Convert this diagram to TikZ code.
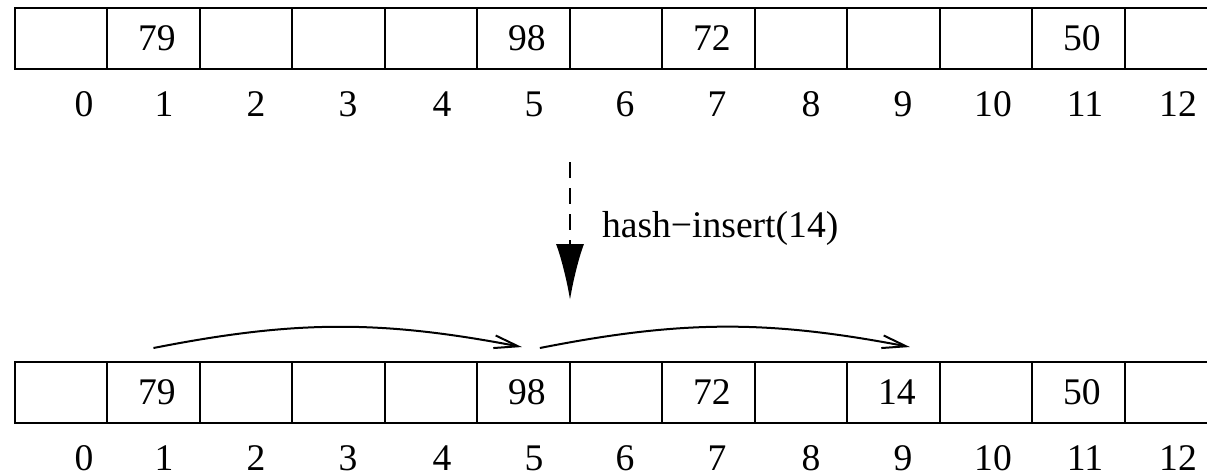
\documentclass[tikz,border=0pt]{standalone}
\usepackage{fontspec}
\setmainfont{Liberation Serif}
\usetikzlibrary{arrows.meta}
\begin{document}
\begin{tikzpicture}[x=0.25pt,y=-0.25pt,line width=0.5pt,font=\fontsize{9.4}{11}\selectfont,
		cell/.style={draw,rectangle,minimum width=23.125pt,minimum height=15.25pt,inner sep=0pt,outer sep=0pt},
		jump/.style={-{Straight Barb[length=6pt,width=3.2pt]}}]
				\clip (0,0) rectangle (1207,473);
				\foreach \i/\v in {0/,1/79,2/,3/,4/,5/98,6/,7/72,8/,9/,10/,11/50,12/}
				\node[cell] (t\i) at (60.95+92.5*\i,38.5) {\hspace{1.7pt}\v};
				\foreach \i/\v in {0/,1/79,2/,3/,4/,5/98,6/,7/72,8/,9/14,10/,11/50,12/}
				\node[cell] (b\i) at (60.95+92.5*\i,392.5) {\hspace{1.7pt}\v};
				\foreach \i/\x in {0/84,1/164,2/256,3/348,4/442,5/534,6/625,7/717,8/811,9/903,10/993,11/1085,12/1178}
				{\node (ti\i) at (\x,104.5) {\i};
				\node (bi\i) at (\x,458) {\i};}
				\coordinate (src) at (570,162);
				\coordinate (dst) at (570,300);
				\draw[line width=0.7pt,dash pattern=on 4pt off 2.5pt,-{Latex[length=14pt,width=7pt]}] (src) -- (dst);
				\node[anchor=west,inner sep=0pt] (op) at (601,228) {hash−insert(14)};
				\draw[jump] ([yshift=3.5pt]b1.north) to[bend left=11] ([xshift=-0.4pt,yshift=3.75pt]b5.north);
				\draw[jump] ([xshift=4.1pt,yshift=3.5pt]b5.north) to[bend left=11] ([xshift=4.1pt,yshift=3.75pt]b9.north);
			\end{tikzpicture}
\end{document}
